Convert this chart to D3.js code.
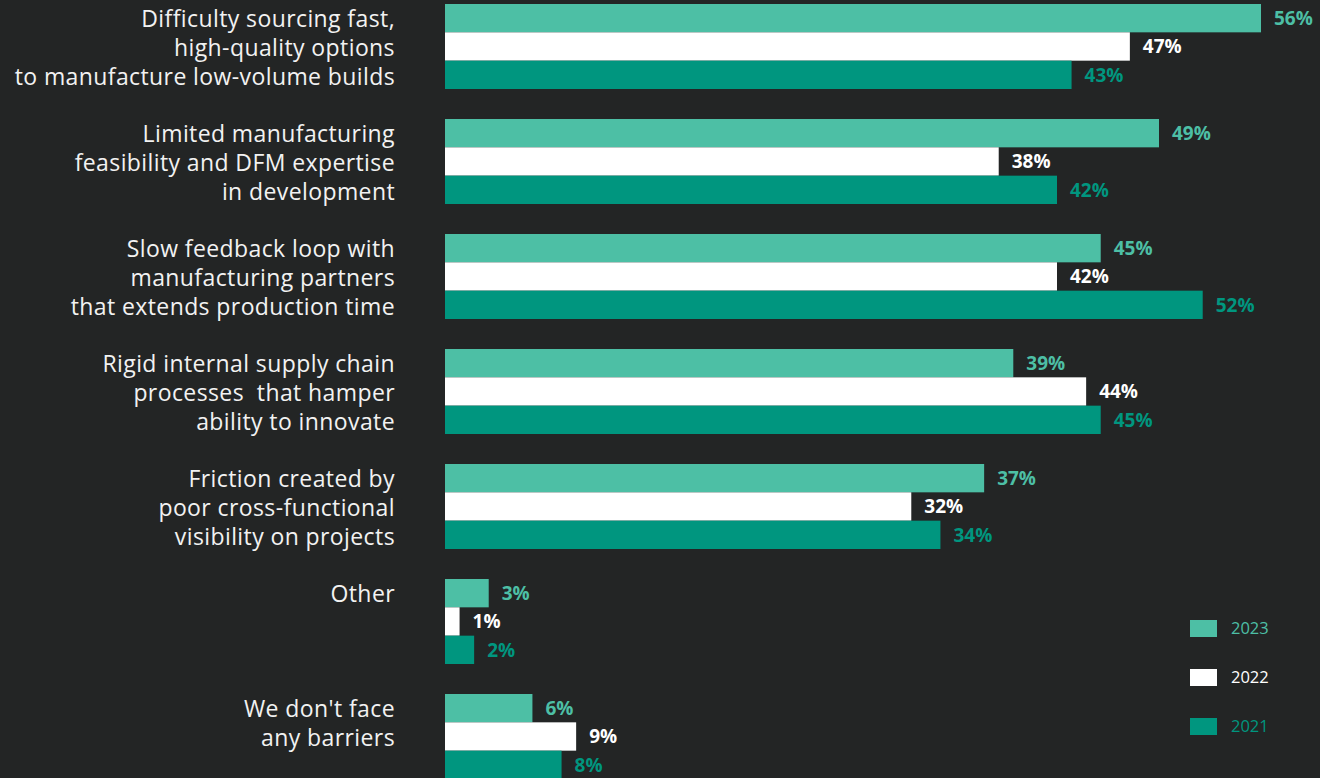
<!DOCTYPE html>
<html><head><meta charset="utf-8">
<script src="https://cdn.jsdelivr.net/npm/d3@7"></script>
<style>
html,body{margin:0;padding:0;background:#232525;}
svg{display:block;}
text{white-space:pre;}
</style></head>
<body>
<svg id="chart" width="1320" height="778"></svg>
<script>
const categories = [
  ["Difficulty sourcing fast,", "high-quality options", "to manufacture low-volume builds"],
  ["Limited manufacturing", "feasibility and DFM expertise", "in development"],
  ["Slow feedback loop with", "manufacturing partners", "that extends production time"],
  ["Rigid internal supply chain", "processes  that hamper", "ability to innovate"],
  ["Friction created by", "poor cross-functional", "visibility on projects"],
  ["Other"],
  ["We don't face", "any barriers"]
];
const years = ["2023", "2022", "2021"];
const values2023 = [56, 49, 45, 39, 37, 3, 6];
const values2022 = [47, 38, 42, 44, 32, 1, 9];
const values2021 = [43, 42, 52, 45, 34, 2, 8];
const colors = {"2023": "#4dbfa5", "2022": "#ffffff", "2021": "#00967f"};

const series = {"2023": values2023, "2022": values2022, "2021": values2021};
const svg = d3.select("#chart");
const W = 1320, H = 778;
svg.append("rect").attr("width", W).attr("height", H).attr("fill", "#232525");

const ids = categories.map((c, i) => i);
const x = d3.scaleLinear().domain([0, 56]).range([445, 1261]);
const y0 = d3.scaleBand().domain(ids).range([4, 779]).paddingInner(30/115).paddingOuter(0);
const y1 = d3.scaleBand().domain(years).range([0, y0.bandwidth()]).padding(0);

const g = svg.append("g");
const groups = g.selectAll("g.grp").data(ids).join("g")
  .attr("class", "grp")
  .attr("transform", i => `translate(0,${y0(i)})`);

groups.each(function(i) {
  const gg = d3.select(this);
  years.forEach(yr => {
    const v = series[yr][i];
    gg.append("rect")
      .attr("x", x(0))
      .attr("y", y1(yr))
      .attr("width", x(v) - x(0))
      .attr("height", y1.bandwidth())
      .attr("fill", colors[yr]);
    gg.append("text")
      .attr("x", x(v) + 13)
      .attr("y", y1(yr) + y1.bandwidth() / 2)
      .attr("dy", "0.36em")
      .attr("fill", colors[yr])
      .attr("font-family", "'Open Sans', sans-serif")
      .attr("font-weight", 700)
      .attr("font-size", 19)
      .text(v + "%");
  });
  const lines = categories[i];
  const t = gg.append("text")
    .attr("text-anchor", "end")
    .attr("fill", "#f2f2f2")
    .attr("font-family", "'Open Sans', sans-serif")
    .attr("font-size", 23)
    .attr("letter-spacing", 0.4);
  lines.forEach((ln, k) => {
    t.append("tspan")
      .attr("x", 395)
      .attr("y", 15 + k * 29)
      .attr("dy", "0.36em")
      .text(ln);
  });
});

// legend
const legend = svg.append("g");
const ly = d3.scalePoint().domain(years).range([628.5, 726.5]);
years.forEach(yr => {
  legend.append("rect")
    .attr("x", 1190).attr("y", ly(yr) - 8.5)
    .attr("width", 27).attr("height", 17)
    .attr("fill", colors[yr]);
  legend.append("text")
    .attr("x", 1231).attr("y", ly(yr))
    .attr("dy", "0.36em")
    .attr("fill", colors[yr])
    .attr("font-family", "'Open Sans', sans-serif")
    .attr("font-size", 16.5)
    .text(yr);
});
</script>
</body></html>
